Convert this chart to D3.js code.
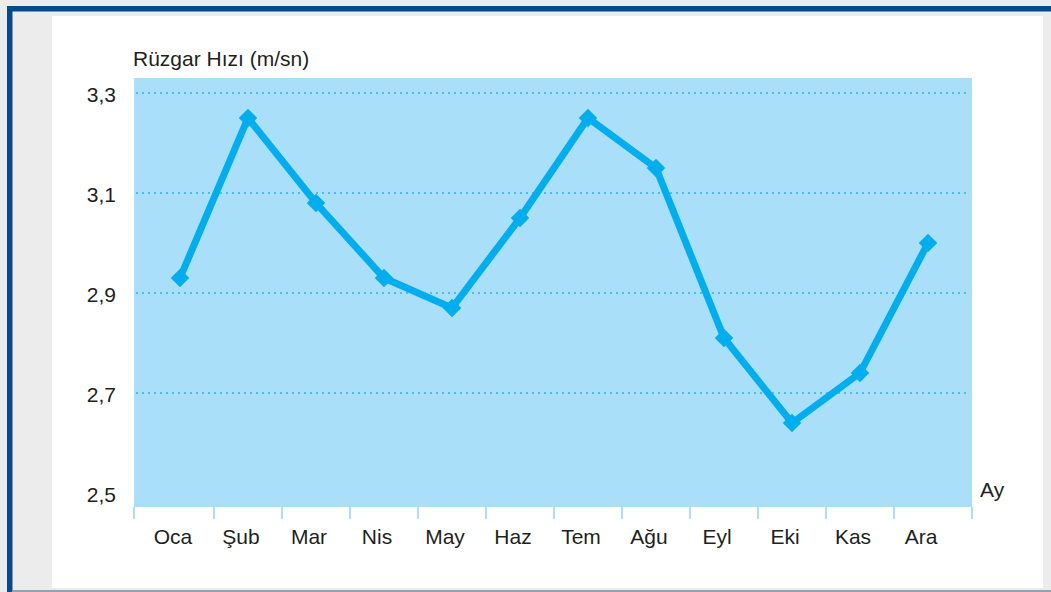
<!DOCTYPE html>
<html>
<head>
<meta charset="utf-8">
<script src="https://cdn.jsdelivr.net/npm/d3@7"></script>
<style>
  html, body { margin: 0; padding: 0; background: #ececec; }
  svg { display: block; }
  text { font-family: "Liberation Sans", Arial, Helvetica, sans-serif; fill: #231f20; }
</style>
</head>
<body>
<script>
/* chart data */
var months = ["Oca", "Şub", "Mar", "Nis", "May", "Haz", "Tem", "Ağu", "Eyl", "Eki", "Kas", "Ara"],
    windSpeed = [2.93, 3.25, 3.08, 2.93, 2.87, 3.05, 3.25, 3.15, 2.81, 2.64, 2.74, 3.00],
    yTicks = [2.5, 2.7, 2.9, 3.1, 3.3],
    yTitle = "Rüzgar Hızı (m/sn)",
    xTitle = "Ay";

var W = 1051, H = 592,
    plot = { left: 134, right: 972, top: 78, bottom: 507 },
    fmt = function( v ){ return d3.format(".1f")(v).replace(".", ","); };

var svg = d3.select("body").append("svg").attr("width", W).attr("height", H);

/* frame: blue corner bars, grey gutter, white page */
svg.append("rect").attr("x", 7).attr("y", 6).attr("width", W - 7).attr("height", 5.5).attr("fill", "#034b8c");
svg.append("rect").attr("x", 7).attr("y", 6).attr("width", 5.5).attr("height", H - 6).attr("fill", "#034b8c");
svg.append("rect").attr("x", 12.5).attr("y", 590).attr("width", W).attr("height", 2).attr("fill", "#8ea4b6");
svg.append("rect").attr("x", 52).attr("y", 16).attr("width", 991).attr("height", 572).attr("fill", "#ffffff");

/* scales */
var x = d3.scalePoint().domain(months).range([180, 928]),
    y = d3.scaleLinear().domain([2.5, 3.3]).range([493, 93]);

/* plot background */
svg.append("rect")
    .attr("x", plot.left).attr("y", plot.top)
    .attr("width", plot.right - plot.left).attr("height", plot.bottom - plot.top)
    .attr("fill", "#a9dff9");

/* dotted gridlines (not at the baseline) */
svg.append("g").selectAll("line")
    .data(yTicks.filter(function( t ){ return t > 2.5; }))
    .join("line")
    .attr("x1", plot.left + 2).attr("x2", plot.right - 6)
    .attr("y1", function( d ){ return y(d); }).attr("y2", function( d ){ return y(d); })
    .attr("stroke", "#4fbde9").attr("stroke-width", 2)
    .attr("stroke-dasharray", "2,4");

/* y axis labels */
svg.append("g").selectAll("text")
    .data(yTicks)
    .join("text")
    .attr("x", 116).attr("y", function( d ){ return y(d) + 9; })
    .attr("text-anchor", "end").attr("font-size", 21)
    .text(fmt);

/* x ticks: plot edges plus midpoints between months */
var step = x.step(),
    xTickPos = [plot.left].concat(months.slice(1).map(function( m ){ return x(m) - step / 2; })).concat([plot.right]);

svg.append("g").selectAll("line")
    .data(xTickPos)
    .join("line")
    .attr("x1", function( d ){ return d; }).attr("x2", function( d ){ return d; })
    .attr("y1", plot.bottom).attr("y2", plot.bottom + 12)
    .attr("stroke", "#a9dff9").attr("stroke-width", 2);

/* month labels */
svg.append("g").selectAll("text")
    .data(months)
    .join("text")
    .attr("x", function( d ){ return x(d) - 7; }).attr("y", 544)
    .attr("text-anchor", "middle").attr("font-size", 21)
    .text(function( d ){ return d; });

/* axis titles */
svg.append("text").attr("x", 133).attr("y", 66).attr("font-size", 21).text(yTitle);
svg.append("text").attr("x", 980).attr("y", 497).attr("font-size", 21).text(xTitle);

/* line + markers */
var line = d3.line()
    .x(function( d, i ){ return x(months[i]); })
    .y(function( d ){ return y(d); });

svg.append("path")
    .datum(windSpeed)
    .attr("d", line)
    .attr("fill", "none")
    .attr("stroke", "#00aeef").attr("stroke-width", 7)
    .attr("stroke-linejoin", "miter");

svg.append("g").selectAll("path")
    .data(windSpeed)
    .join("path")
    .attr("d", d3.symbol().type(d3.symbolSquare).size(170))
    .attr("transform", function( d, i ){ return "translate(" + x(months[i]) + "," + y(d) + ") rotate(45)"; })
    .attr("fill", "#00aeef");
</script>
</body>
</html>
